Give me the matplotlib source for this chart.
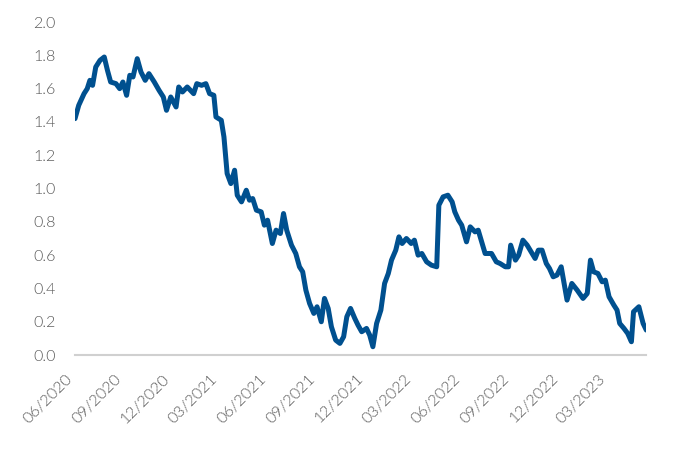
import pandas as pd
import matplotlib
matplotlib.use("Agg")
import matplotlib.pyplot as plt
import matplotlib.dates as mdates

# valeurs
dates = ["2020-06-01", "2020-06-08", "2020-06-18", "2020-06-24", "2020-06-29",
         "2020-07-04", "2020-07-10", "2020-07-18", "2020-07-26", "2020-08-01",
         "2020-08-07", "2020-08-17", "2020-08-24", "2020-08-30", "2020-09-06",
         "2020-09-12", "2020-09-18", "2020-09-26", "2020-10-03", "2020-10-11",
         "2020-10-18", "2020-10-28", "2020-11-06", "2020-11-14", "2020-11-20",
         "2020-11-28", "2020-12-08", "2020-12-13", "2020-12-20", "2020-12-29",
         "2021-01-10", "2021-01-16", "2021-01-25", "2021-02-02", "2021-02-09",
         "2021-02-17", "2021-02-21", "2021-03-03", "2021-03-08", "2021-03-14",
         "2021-03-21", "2021-03-28", "2021-04-02", "2021-04-10", "2021-04-19",
         "2021-04-25", "2021-05-01", "2021-05-08", "2021-05-17", "2021-05-23",
         "2021-05-29", "2021-06-07", "2021-06-14", "2021-06-22", "2021-06-28",
         "2021-07-04", "2021-07-13", "2021-07-21", "2021-07-28", "2021-08-03",
         "2021-08-09", "2021-08-16", "2021-08-24", "2021-08-30", "2021-09-07",
         "2021-09-13", "2021-09-20", "2021-09-26", "2021-10-04", "2021-10-12",
         "2021-10-19", "2021-10-25", "2021-11-01", "2021-11-09", "2021-11-15",
         "2021-11-22", "2021-12-01", "2021-12-07", "2021-12-13", "2021-12-20",
         "2021-12-28", "2022-01-04", "2022-01-11", "2022-01-17", "2022-01-25",
         "2022-01-31", "2022-02-06", "2022-02-14", "2022-02-23", "2022-03-01",
         "2022-03-08", "2022-03-15", "2022-03-24", "2022-04-02", "2022-04-12",
         "2022-04-16", "2022-04-24", "2022-05-03", "2022-05-11", "2022-05-16",
         "2022-05-23", "2022-05-29", "2022-06-07", "2022-06-14", "2022-06-23",
         "2022-06-29", "2022-07-12", "2022-07-24", "2022-08-02", "2022-08-09",
         "2022-08-19", "2022-08-25", "2022-08-29", "2022-09-07", "2022-09-13",
         "2022-09-21", "2022-09-29", "2022-10-14", "2022-10-20", "2022-10-27",
         "2022-11-04", "2022-11-10", "2022-11-17", "2022-11-24", "2022-12-02",
         "2022-12-13", "2022-12-22", "2023-01-01", "2023-01-12", "2023-01-20",
         "2023-01-26", "2023-02-01", "2023-02-09", "2023-02-17", "2023-02-23",
         "2023-03-02", "2023-03-11", "2023-03-17", "2023-03-22", "2023-03-30",
         "2023-04-06", "2023-04-13", "2023-04-17", "2023-04-27", "2023-05-05",
         "2023-05-11"]
values = [1.42, 1.50, 1.57, 1.60, 1.65, 1.62, 1.73, 1.77, 1.79, 1.71,
          1.64, 1.63, 1.60, 1.64, 1.56, 1.68, 1.67, 1.78, 1.70, 1.65,
          1.69, 1.64, 1.59, 1.55, 1.47, 1.55, 1.49, 1.61, 1.58, 1.61,
          1.57, 1.63, 1.62, 1.63, 1.57, 1.56, 1.43, 1.41, 1.31, 1.09,
          1.03, 1.11, 0.96, 0.92, 0.99, 0.93, 0.94, 0.87, 0.86, 0.78,
          0.81, 0.67, 0.75, 0.73, 0.85, 0.75, 0.66, 0.61, 0.53, 0.50,
          0.39, 0.31, 0.25, 0.29, 0.20, 0.34, 0.28, 0.17, 0.09, 0.07,
          0.11, 0.23, 0.28, 0.22, 0.18, 0.14, 0.16, 0.12, 0.05, 0.19,
          0.27, 0.43, 0.49, 0.57, 0.63, 0.71, 0.67, 0.70, 0.67, 0.69,
          0.60, 0.61, 0.56, 0.54, 0.53, 0.90, 0.95, 0.96, 0.92, 0.86,
          0.81, 0.78, 0.68, 0.77, 0.74, 0.75, 0.61, 0.61, 0.56, 0.55,
          0.53, 0.53, 0.66, 0.57, 0.60, 0.69, 0.66, 0.58, 0.63, 0.63,
          0.55, 0.52, 0.47, 0.48, 0.53, 0.33, 0.43, 0.39, 0.34, 0.37,
          0.57, 0.50, 0.49, 0.44, 0.45, 0.35, 0.30, 0.27, 0.19, 0.16,
          0.13, 0.08, 0.26, 0.29, 0.19, 0.15]
tick_dates = ["2020-06-01", "2020-09-01", "2020-12-01", "2021-03-01",
              "2021-06-01", "2021-09-01", "2021-12-01", "2022-03-01",
              "2022-06-01", "2022-09-01", "2022-12-01", "2023-03-01"]

df = pd.DataFrame({"date": pd.to_datetime(dates), "value": values})

plt.rcParams['font.family'] = ['Lato', 'DejaVu Sans']

fig = plt.figure(figsize=(6.85, 4.5), dpi=100)
ax = fig.add_axes([0.1095, 0.211, 0.834, 0.740])

ax.plot(df["date"], df["value"], color="#00508f", lw=3.6,
        solid_joinstyle="round", solid_capstyle="round")

ax.set_ylim(0, 2.0)
ax.set_yticks([i / 10 for i in range(0, 21, 2)])
ax.yaxis.set_major_formatter(plt.FuncFormatter(lambda v, p: f"{v:.1f}"))
ax.set_xlim(df["date"].iloc[0], df["date"].iloc[-1])
ax.set_xticks(pd.to_datetime(tick_dates))
ax.xaxis.set_major_formatter(mdates.DateFormatter("%m/%Y"))

for s in ["top", "right", "left"]:
    ax.spines[s].set_visible(False)
ax.spines["bottom"].set_color("#d0d0d0")
ax.spines["bottom"].set_linewidth(1.5)
ax.spines["bottom"].set_zorder(0)

ax.tick_params(axis="y", length=0, pad=14, labelsize=11.5, labelcolor="#595959")
ax.tick_params(axis="x", length=0, pad=12, labelsize=11.5, labelcolor="#595959")
for lab in ax.get_yticklabels() + ax.get_xticklabels():
    lab.set_fontweight(300)
for lab in ax.get_xticklabels():
    lab.set_rotation(45)
    lab.set_ha("right")

fig.savefig("out.png", dpi=100)
